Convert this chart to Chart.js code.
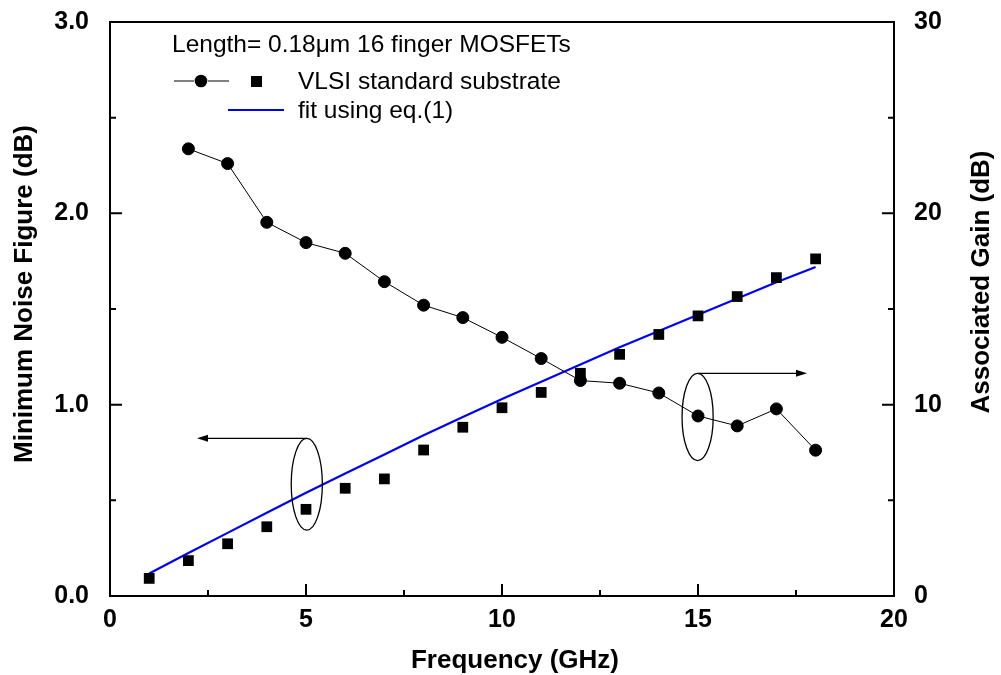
<!DOCTYPE html>
<html>
<head>
<meta charset="utf-8">
<script src="https://cdn.jsdelivr.net/npm/chart.js@4.4.1/dist/chart.umd.min.js"></script>
<style>
html,body{margin:0;padding:0;background:#fff;}
#wrap{width:1001px;height:675px;}
</style>
</head>
<body>
<div id="wrap"><canvas id="c" width="1001" height="675"></canvas></div>
<script>
// ---- data ----
const freqNF = [1,2,3,4,5,6,7,8,9,10,11,12,13,14,15,16,17,18];
const nfMin  = [0.092,0.185,0.273,0.362,0.453,0.563,0.612,0.763,0.882,0.984,1.064,1.164,1.263,1.367,1.464,1.565,1.664,1.762];
const fitNF  = [0.118,0.225,0.330,0.435,0.540,0.640,0.740,0.840,0.935,1.030,1.120,1.210,1.300,1.385,1.470,1.555,1.640,1.720];
const freqGa = [2,3,4,5,6,7,8,9,10,11,12,13,14,15,16,17,18];
const gainA  = [23.37,22.60,19.53,18.47,17.91,16.43,15.20,14.55,13.52,12.41,11.26,11.12,10.61,9.41,8.89,9.78,7.62];
const xTicks = [0,5,10,15,20];
const yLeftTicks = [0,1,2,3];
const yRightTicks = [0,10,20,30];
const legendTitle = "Length= 0.18\u03bcm 16 finger MOSFETs";
const legendSeries = "VLSI standard substrate";
const legendFit = "fit using eq.(1)";
const xTitle = "Frequency (GHz)";
const yLeftTitle = "Minimum Noise Figure (dB)";
const yRightTitle = "Associated Gain (dB)";

const FONT = "'Liberation Sans', Arial, Helvetica, sans-serif";

const pts = (xs, ys) => xs.map((x, i) => ({x: x, y: ys[i]}));

const decor = {
  id: 'decor',
  afterDatasetsDraw(chart) {
    const ctx = chart.ctx;
    const a = chart.chartArea;
    const sx = chart.scales.x, sl = chart.scales.y, sr = chart.scales.y2;
    ctx.save();
    ctx.strokeStyle = '#000';
    ctx.fillStyle = '#000';
    // frame
    ctx.lineWidth = 2;
    ctx.strokeRect(a.left, a.top, a.right - a.left, a.bottom - a.top);
    // ticks (inward)
    const major = 12, minor = 6;
    ctx.beginPath();
    for (let i = 0; i < xTicks.length; i++) {
      const p = sx.getPixelForValue(xTicks[i]);
      ctx.moveTo(p, a.bottom); ctx.lineTo(p, a.bottom - major);
      if (i < xTicks.length - 1) {
        const m = sx.getPixelForValue((xTicks[i] + xTicks[i+1]) / 2);
        ctx.moveTo(m, a.bottom); ctx.lineTo(m, a.bottom - minor);
      }
    }
    for (let i = 0; i < yLeftTicks.length; i++) {
      const p = sl.getPixelForValue(yLeftTicks[i]);
      ctx.moveTo(a.left, p); ctx.lineTo(a.left + major, p);
      if (i < yLeftTicks.length - 1) {
        const m = sl.getPixelForValue((yLeftTicks[i] + yLeftTicks[i+1]) / 2);
        ctx.moveTo(a.left, m); ctx.lineTo(a.left + minor, m);
      }
    }
    for (let i = 0; i < yRightTicks.length; i++) {
      const p = sr.getPixelForValue(yRightTicks[i]);
      ctx.moveTo(a.right, p); ctx.lineTo(a.right - major, p);
      if (i < yRightTicks.length - 1) {
        const m = sr.getPixelForValue((yRightTicks[i] + yRightTicks[i+1]) / 2);
        ctx.moveTo(a.right, m); ctx.lineTo(a.right - minor, m);
      }
    }
    ctx.stroke();

    // ellipses and arrows
    ctx.lineWidth = 1.3;
    const ell = (cx, cy, rx, ry, sy) => {
      const px = sx.getPixelForValue(cx), py = sy.getPixelForValue(cy);
      const rpx = Math.abs(sx.getPixelForValue(cx + rx) - px);
      const rpy = Math.abs(sy.getPixelForValue(cy + ry) - py);
      ctx.beginPath();
      ctx.ellipse(px, py, rpx, rpy, 0, 0, Math.PI * 2);
      ctx.stroke();
    };
    const arrow = (x0, x1, yv, sy) => {
      const p0 = sx.getPixelForValue(x0), p1 = sx.getPixelForValue(x1), py = sy.getPixelForValue(yv);
      const dir = Math.sign(p1 - p0);
      ctx.beginPath();
      ctx.moveTo(p0, py); ctx.lineTo(p1 - dir * 8, py);
      ctx.stroke();
      ctx.beginPath();
      ctx.moveTo(p1, py);
      ctx.lineTo(p1 - dir * 11, py - 3.5);
      ctx.lineTo(p1 - dir * 11, py + 3.5);
      ctx.closePath();
      ctx.fill();
    };
    ell(5.02, 0.584, 0.397, 0.2395, sl);
    arrow(5.02, 2.22, 0.824, sl);
    ell(14.99, 9.36, 0.397, 2.28, sr);
    arrow(14.99, 17.78, 11.64, sr);

    // legend
    ctx.font = "24.5px " + FONT;
    ctx.textAlign = 'left';
    ctx.textBaseline = 'alphabetic';
    ctx.fillText(legendTitle, 172, 52);
    ctx.fillText(legendSeries, 298, 89);
    ctx.fillText(legendFit, 298, 118);
    ctx.lineWidth = 1;
    ctx.beginPath();
    ctx.moveTo(174, 81); ctx.lineTo(194, 81);
    ctx.moveTo(208, 81); ctx.lineTo(229, 81);
    ctx.stroke();
    ctx.beginPath(); ctx.arc(201, 81, 6.3, 0, Math.PI * 2); ctx.fill();
    ctx.fillRect(251, 76, 11, 11);
    ctx.strokeStyle = '#0000ff';
    ctx.lineWidth = 2;
    ctx.beginPath(); ctx.moveTo(228, 110); ctx.lineTo(284, 110); ctx.stroke();

    // axis titles
    ctx.fillStyle = '#000';
    ctx.font = "bold 26px " + FONT;
    ctx.textAlign = 'center';
    ctx.fillText(xTitle, 515, 668);
    ctx.save();
    ctx.translate(32, 294); ctx.rotate(-Math.PI / 2);
    ctx.fillText(yLeftTitle, 0, 0);
    ctx.restore();
    ctx.save();
    ctx.translate(989, 282); ctx.rotate(-Math.PI / 2);
    ctx.fillText(yRightTitle, 0, 0);
    ctx.restore();
    ctx.restore();
  }
};

const tickFont = {family: FONT, size: 25, weight: 'bold'};

new Chart(document.getElementById('c'), {
  type: 'scatter',
  data: {
    datasets: [
      {
        label: 'Ga', data: pts(freqGa, gainA), yAxisID: 'y2', showLine: true,
        borderColor: '#000', borderWidth: 1, backgroundColor: '#000',
        pointStyle: 'circle', pointRadius: 6, pointBorderWidth: 1, pointBorderColor: '#000', pointBackgroundColor: '#000', order: 1
      },
      {
        label: 'NFmin', data: pts(freqNF, nfMin), yAxisID: 'y', showLine: false,
        pointStyle: 'rect', pointRadius: 7.6, pointBorderWidth: 0, pointBackgroundColor: '#000', backgroundColor: '#000', borderColor: '#000', order: 2
      },
      {
        label: 'fit', data: pts(freqNF, fitNF), yAxisID: 'y', showLine: true,
        borderColor: '#0000ff', borderWidth: 2.2, pointRadius: 0, fill: false, order: 3
      }
    ]
  },
  options: {
    responsive: false,
    animation: false,
    layout: {padding: {top: 22, left: 0, right: 0, bottom: 0}},
    plugins: {legend: {display: false}, tooltip: {enabled: false}, title: {display: false}},
    scales: {
      x: {
        type: 'linear', position: 'bottom', min: 0, max: 20,
        grid: {display: false}, border: {display: false},
        ticks: {stepSize: 5, color: '#000', font: tickFont, padding: 1, maxRotation: 0,
                callback: v => xTicks.includes(v) ? String(v) : ''},
        afterBuildTicks: s => { s.ticks = xTicks.map(v => ({value: v})); },
        afterFit: s => { s.height = 79; s.paddingLeft = 0; s.paddingRight = 0; }
      },
      y: {
        type: 'linear', position: 'left', min: 0, max: 3,
        grid: {display: false}, border: {display: false},
        ticks: {stepSize: 1, color: '#000', font: tickFont, padding: 13,
                callback: v => Number(v).toFixed(1)},
        afterBuildTicks: s => { s.ticks = yLeftTicks.map(v => ({value: v})); },
        afterFit: s => { s.width = 110; s.paddingTop = 0; s.paddingBottom = 0; }
      },
      y2: {
        type: 'linear', position: 'right', min: 0, max: 30,
        grid: {display: false}, border: {display: false},
        ticks: {stepSize: 10, color: '#000', font: tickFont, padding: 12,
                callback: v => String(v)},
        afterBuildTicks: s => { s.ticks = yRightTicks.map(v => ({value: v})); },
        afterFit: s => { s.width = 107; s.paddingTop = 0; s.paddingBottom = 0; }
      }
    }
  },
  plugins: [decor]
});
</script>
</body>
</html>
